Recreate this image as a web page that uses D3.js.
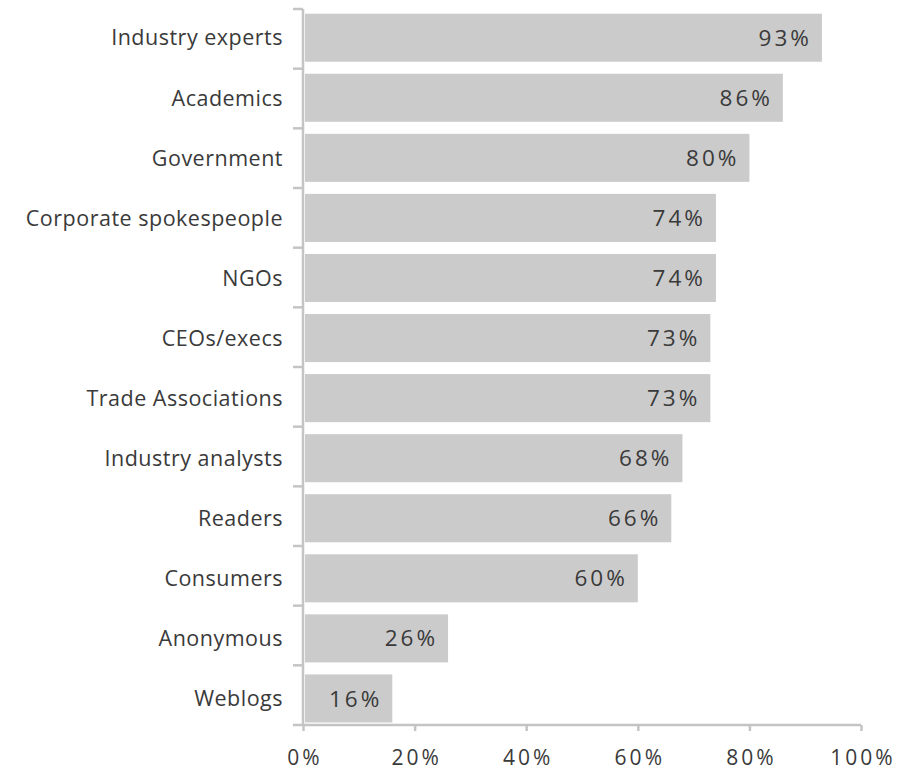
<!DOCTYPE html>
<html>
<head>
<meta charset="utf-8">
<script src="https://cdn.jsdelivr.net/npm/d3@7"></script>
<style>
  html, body { margin: 0; padding: 0; background: #ffffff; }
  svg { display: block; }
  text { font-family: "Open Sans", "DejaVu Sans", sans-serif; fill: #3a3a3a; }
</style>
</head>
<body>
<svg id="chart" width="899" height="771"></svg>
<script>
// Share of respondents rating each source as credible
const categories = [
  "Industry experts", "Academics", "Government", "Corporate spokespeople",
  "NGOs", "CEOs/execs", "Trade Associations", "Industry analysts",
  "Readers", "Consumers", "Anonymous", "Weblogs"
];
const values = [93, 86, 80, 74, 74, 73, 73, 68, 66, 60, 26, 16];
const xTicks = [0, 20, 40, 60, 80, 100];

const svg = d3.select("#chart");
const axisColor = "#c4c4c4";
const barColor = "#cbcbcc";

const plotTop = 9, plotBottom = 725;
const x = d3.scaleLinear().domain([0, 100]).range([303, 861]);
const y = d3.scaleBand().domain(categories).range([plotTop, plotBottom])
  .paddingInner(0.2).paddingOuter(0.06).align(0.65);
const step = y.step();

// Bars
svg.append("g").selectAll("rect")
  .data(values)
  .join("rect")
  .attr("x", x(0) + 2)
  .attr("y", (d, i) => y(categories[i]))
  .attr("width", d => x(d) - x(0) - 2)
  .attr("height", y.bandwidth())
  .attr("fill", barColor);

// Value labels inside the bar ends
const valueSpacing = 3;
svg.append("g").selectAll("text")
  .data(values)
  .join("text")
  .attr("x", d => x(d) - 13 + valueSpacing)
  .attr("y", (d, i) => y(categories[i]) + y.bandwidth() / 2)
  .attr("dy", "0.36em")
  .attr("text-anchor", "end")
  .style("font-size", "22.5px")
  .style("letter-spacing", valueSpacing + "px")
  .text(d => d + "%");

// Category axis: vertical rule with ticks between the bands
const yAxisG = svg.append("g");
yAxisG.append("line")
  .attr("x1", x(0)).attr("x2", x(0))
  .attr("y1", plotTop).attr("y2", plotBottom)
  .attr("stroke", axisColor).attr("stroke-width", 2.5);
const edges = d3.range(categories.length).map(i => plotTop + i * (plotBottom - plotTop) / categories.length);
yAxisG.selectAll("line.tick")
  .data(edges)
  .join("line")
  .attr("class", "tick")
  .attr("x1", x(0) - 10).attr("x2", x(0))
  .attr("y1", d => d).attr("y2", d => d)
  .attr("stroke", axisColor).attr("stroke-width", 2.5);

yAxisG.selectAll("text")
  .data(categories)
  .join("text")
  .attr("x", 283)
  .attr("y", d => y(d) + y.bandwidth() / 2)
  .attr("dy", "0.36em")
  .attr("text-anchor", "end")
  .style("font-size", "21.5px")
  .style("letter-spacing", "0.5px")
  .text(d => d);

// Value axis along the bottom
const xAxis = d3.axisBottom(x)
  .tickValues(xTicks)
  .tickFormat(d => d + "%")
  .tickSize(6)
  .tickPadding(19)
  .tickSizeOuter(0);
const xg = svg.append("g")
  .attr("transform", `translate(0,${plotBottom})`)
  .call(xAxis);
xg.select(".domain").attr("stroke", axisColor).attr("stroke-width", 2.5)
  .attr("d", `M${x(0) - 10},0H${x(100)}`);
xg.selectAll(".tick line").attr("stroke", axisColor).attr("stroke-width", 2.5);
xg.selectAll(".tick text")
  .style("font-family", '"Open Sans", "DejaVu Sans", sans-serif')
  .style("font-size", "21px")
  .style("letter-spacing", "3px")
  .attr("dx", "1.5px")
  .attr("fill", "#3a3a3a");
</script>
</body>
</html>
